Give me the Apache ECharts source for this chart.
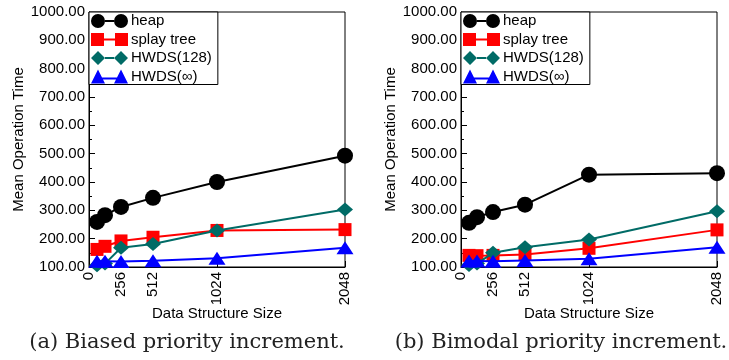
<!DOCTYPE html>
<html>
<head>
<meta charset="utf-8">
<script src="https://cdn.jsdelivr.net/npm/echarts@6/dist/echarts.min.js"></script>
<style>
  html, body { margin: 0; padding: 0; background: #fff; }
  #chart { width: 729px; height: 360px; }
</style>
</head>
<body>
<div id="chart"></div>
<script>
// Data structure sizes (x) and mean operation times (y)
const sizes = [64, 128, 256, 512, 1024, 2048];
const xTickValues = [0, 64, 128, 256, 512, 1024, 2048];
const xLabelValues = [0, 256, 512, 1024, 2048];

const seriesNames = ['heap', 'splay tree', 'HWDS(128)', 'HWDS(\u221e)'];

// (a) Biased priority increment
const biasedHeap   = [259, 283, 312, 344, 400, 493];
const biasedSplay  = [162, 173, 192, 205, 229, 232];
const biasedHwds128 = [106, 112, 168, 181, 229, 303];
const biasedHwdsInf = [120, 120, 119, 122, 131, 168];

// (b) Bimodal priority increment
const bimodalHeap   = [256, 276, 294, 320, 426, 431];
const bimodalSplay  = [141, 140, 141, 144, 166, 231];
const bimodalHwds128 = [107, 112, 150, 170, 197, 297];
const bimodalHwdsInf = [121, 121, 120, 123, 129, 170];

const captions = ['(a) Biased priority increment.', '(b) Bimodal priority increment.'];

const colors = ['#000000', '#ff0000', '#006b66', '#0000ff'];
const symbols = ['circle', 'rect', 'diamond', 'triangle'];
const symbolSizes = [16, 13, [16, 14], [17, 13]];

// legend icons: marker - line - marker
const legendIcons = [
  'path://M0,7 A7,7 0 1,1 14,7 A7,7 0 1,1 0,7 Z M23,7 A7,7 0 1,1 37,7 A7,7 0 1,1 23,7 Z M14,6 L23,6 L23,8 L14,8 Z',
  'path://M0,0.5 L13,0.5 L13,13.5 L0,13.5 Z M24,0.5 L37,0.5 L37,13.5 L24,13.5 Z M13,6 L24,6 L24,8 L13,8 Z',
  'path://M0,7 L7,0 L14,7 L7,14 Z M23,7 L30,0 L37,7 L30,14 Z M14,6 L23,6 L23,8 L14,8 Z',
  'path://M0,14 L7,0 L14,14 Z M23,14 L30,0 L37,14 Z M10.5,8 L26.5,8 L26.5,10 L10.5,10 Z'
];

const FONT = 'Liberation Sans, Arial, Helvetica, sans-serif';
const grids = [
  { left: 89, top: 12, width: 256, height: 255 },
  { left: 461, top: 12, width: 256, height: 255 }
];
const captionCenters = [187, 561];
const panels = [
  [biasedHeap, biasedSplay, biasedHwds128, biasedHwdsInf],
  [bimodalHeap, bimodalSplay, bimodalHwds128, bimodalHwdsInf]
];

const option = {
  animation: false,
  backgroundColor: '#fff',
  title: grids.map((g, i) => ({
    text: captions[i],
    left: captionCenters[i],
    top: 332,
    textAlign: 'center',
    padding: 0,
    textStyle: { fontFamily: 'DejaVu Serif, serif', fontWeight: 'normal', fontSize: 21, color: '#222' }
  })),
  grid: grids.map(g => ({ ...g, show: true, borderColor: '#000', borderWidth: 1, backgroundColor: 'transparent' })),
  legend: grids.map((g, i) => ({
    left: g.left,
    top: g.top,
    orient: 'vertical',
    itemWidth: 37,
    itemHeight: 14,
    itemGap: 2.5,
    padding: [1, 6, 0, 2],
    borderColor: '#000',
    borderWidth: 1,
    backgroundColor: '#fff',
    textStyle: { fontFamily: FONT, fontSize: 15, lineHeight: 16, color: '#000', padding: [0, 0, 0, -2] },
    data: seriesNames.map((n, k) => ({ name: n, icon: legendIcons[k], itemStyle: { color: colors[k] } })),
    selectedMode: false
  })),
  xAxis: grids.map((g, i) => ({
    gridIndex: i,
    type: 'value',
    min: 0,
    max: 2048,
    name: 'Data Structure Size',
    nameLocation: 'middle',
    nameGap: 39,
    nameMoveOverlap: false,
    nameTextStyle: { fontFamily: FONT, fontSize: 15, color: '#000' },
    axisLine: { lineStyle: { color: '#000', width: 1 } },
    axisTick: { inside: true, length: 6, lineStyle: { color: '#000' }, customValues: xTickValues },
    axisLabel: {
      rotate: 90, fontFamily: FONT, fontSize: 15, color: '#000', margin: 5,
      customValues: xLabelValues,
      formatter: v => String(v)
    },
    splitLine: { show: false }
  })),
  yAxis: grids.map((g, i) => ({
    gridIndex: i,
    type: 'value',
    min: 100,
    max: 1000,
    interval: 100,
    name: 'Mean Operation Time',
    nameLocation: 'middle',
    nameRotate: 90,
    nameGap: 63,
    nameMoveOverlap: false,
    nameTextStyle: { fontFamily: FONT, fontSize: 15, color: '#000' },
    axisLine: { lineStyle: { color: '#000', width: 1 } },
    axisTick: { inside: true, length: 6, lineStyle: { color: '#000' } },
    minorTick: { show: true, splitNumber: 2, length: 3, lineStyle: { color: '#000' } },
    axisLabel: {
      fontFamily: FONT, fontSize: 15, color: '#000', margin: 4,
      formatter: v => v.toFixed(2)
    },
    splitLine: { show: false }
  })),
  series: []
};

panels.forEach((sets, p) => {
  sets.forEach((vals, k) => {
    option.series.push({
      name: seriesNames[k],
      type: 'line',
      xAxisIndex: p,
      yAxisIndex: p,
      data: sizes.map((s, j) => [s, vals[j]]),
      symbol: symbols[k],
      symbolSize: symbolSizes[k],
      showAllSymbol: true,
      clip: false,
      color: colors[k],
      lineStyle: { color: colors[k], width: 2 },
      itemStyle: { color: colors[k] },
      z: 2 + k
    });
  });
});

const chart = echarts.init(document.getElementById('chart'), null, { renderer: 'canvas' });
chart.setOption(option);
</script>
</body>
</html>
